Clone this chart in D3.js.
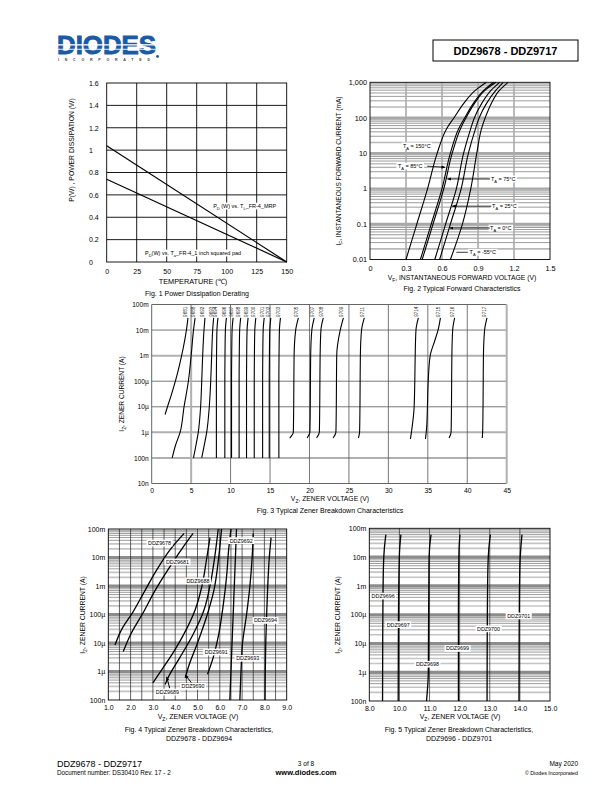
<!DOCTYPE html>
<html><head><meta charset="utf-8">
<script src="https://cdn.jsdelivr.net/npm/d3@7/dist/d3.min.js"></script>
<style>body{margin:0;background:#fff}svg{display:block}text{font-family:"Liberation Sans",Arial,Helvetica,sans-serif}</style>
</head><body><svg id="c" width="612" height="792"></svg>
<script>
// ---------------- DATA ----------------
// Fig 1
const fig1TempTicks = [0, 25, 50, 75, 100, 125, 150];
const fig1PowerTicks = [0, 0.2, 0.4, 0.6, 0.8, 1, 1.2, 1.4, 1.6];
const fig1PowerLabels = ["0", "0.2", "0.4", "0.6", "0.8", "1", "1.2", "1.4", "1.6"];
const fig1Temp = [0, 150];
const fig1PdMRP = [1.04, 0];
const fig1PdPad = [0.74, 0];
// Fig 2 (V, mA)
const fig2VoltTicks = [0, 0.3, 0.6, 0.9, 1.2, 1.5];
const fig2VoltLabels = ["0", "0.3", "0.6", "0.9", "1.2", "1.5"];
const fig2CurrTicks = [0.01, 0.1, 1, 10, 100, 1000];
const fig2CurrLabels = ["0.01", "0.1", "1", "10", "100", "1,000"];
const fig2Labels = ["150", "85", "75", "25", "0", "-55"];
const fig2CurrentMA = [0.01, 0.1, 1, 10, 50, 100, 250, 600, 1000];
const fig2V150 = [0.30, 0.39, 0.48, 0.56, 0.64, 0.70, 0.78, 0.88, 0.97];
const fig2V85 = [0.42, 0.51, 0.60, 0.67, 0.74, 0.79, 0.86, 0.95, 1.03];
const fig2V75 = [0.435, 0.525, 0.615, 0.685, 0.755, 0.80, 0.87, 0.96, 1.05];
const fig2V25 = [0.54, 0.63, 0.72, 0.78, 0.84, 0.87, 0.93, 1.01, 1.08];
const fig2V0 = [0.58, 0.67, 0.76, 0.82, 0.88, 0.91, 0.97, 1.05, 1.11];
const fig2Vm55 = [0.67, 0.77, 0.84, 0.89, 0.93, 0.96, 1.01, 1.08, 1.15];
// Fig 3 (V, A)
const fig3VoltTicks = [0, 5, 10, 15, 20, 25, 30, 35, 40, 45];
const fig3CurrTicks = [1e-8, 1e-7, 1e-6, 1e-5, 1e-4, 1e-3, 1e-2, 1e-1];
const fig3CurrLabels = ["10n", "100n", "1µ", "10µ", "100µ", "1m", "10m", "100m"];
const fig3Names = ["9681","9688","9692","9693","9694","9696","9697","9698","9699","9700","9701","9702","9703","9705","9707","9708","9709","9711","9714","9715","9716","9717"];
const fig3Volts = [
  [1.7, 2.0, 2.5, 3.0, 3.5, 4.0, 4.4, 4.6],
  [2.6, 3.0, 3.6, 4.1, 4.65, 5.0, 5.3, 5.5],
  [5.3, 5.6, 5.9, 6.2, 6.34, 6.46, 6.63, 6.75],
  [6.34, 6.65, 6.97, 7.3, 7.48, 7.6, 7.73, 7.85],
  [8.2, 8.2, 8.22, 8.27, 8.4],
  [9.27, 9.27, 9.29, 9.34, 9.47],
  [10.12, 10.12, 10.14, 10.19, 10.32],
  [11.08, 11.08, 11.1, 11.15, 11.28],
  [12.02, 12.02, 12.04, 12.09, 12.22],
  [13.0, 13.0, 13.02, 13.07, 13.2],
  [14.06, 14.06, 14.08, 14.13, 14.26],
  [14.9, 14.9, 14.92, 14.97, 15.1],
  [16.12, 16.12, 16.14, 16.19, 16.32],
  [17.5, 17.95, 18.0, 18.05, 18.25, 18.6],
  [19.7, 20.05, 20.1, 20.15, 20.3, 20.6],
  [20.9, 21.25, 21.3, 21.35, 21.45, 21.75],
  [23.0, 23.35, 23.4, 23.45, 23.9, 24.3],
  [26.2, 26.35, 26.4, 26.45, 26.6, 26.95],
  [32.8, 33.05, 33.25, 33.35, 33.4, 33.5, 33.8],
  [34.7, 34.85, 34.95, 35.05, 35.3, 35.9, 36.3, 36.6],
  [37.7, 37.95, 38.0, 38.05, 38.15, 38.4],
  [41.9, 41.95, 42.0, 42.05, 42.2, 42.5]
];
const fig3Amps = [
  [5e-6, 1e-5, 3e-5, 1e-4, 4e-4, 2e-3, 1e-2, 3e-2],
  [1e-7, 3e-7, 1e-6, 1e-5, 1e-4, 1e-3, 1e-2, 3e-2],
  [1e-7, 3e-7, 1e-6, 1e-5, 1e-4, 1e-3, 1e-2, 3e-2],
  [1e-7, 3e-7, 1e-6, 1e-5, 1e-4, 1e-3, 1e-2, 3e-2],
  [1e-7, 1e-4, 1e-3, 1e-2, 3e-2],
  [1e-7, 1e-4, 1e-3, 1e-2, 3e-2],
  [1e-7, 1e-4, 1e-3, 1e-2, 3e-2],
  [1e-7, 1e-4, 1e-3, 1e-2, 3e-2],
  [1e-7, 1e-4, 1e-3, 1e-2, 3e-2],
  [1e-7, 1e-4, 1e-3, 1e-2, 3e-2],
  [1e-7, 1e-4, 1e-3, 1e-2, 3e-2],
  [1e-7, 1e-4, 1e-3, 1e-2, 3e-2],
  [1e-7, 1e-4, 1e-3, 1e-2, 3e-2],
  [6e-7, 1e-6, 1e-5, 1e-3, 1e-2, 3e-2],
  [6e-7, 1e-6, 1e-5, 1e-3, 1e-2, 3e-2],
  [6e-7, 1e-6, 1e-5, 1e-3, 1e-2, 3e-2],
  [6e-7, 1e-6, 1e-5, 1e-3, 1e-2, 3e-2],
  [6e-7, 1e-6, 1e-5, 1e-3, 1e-2, 3e-2],
  [5.5e-7, 2e-6, 8e-6, 1e-4, 1e-3, 1e-2, 3e-2],
  [5.5e-7, 1.5e-6, 1e-5, 1e-4, 1e-3, 4e-3, 1e-2, 3e-2],
  [6e-7, 1e-6, 1e-5, 1e-3, 1e-2, 3e-2],
  [6e-7, 1e-6, 1e-5, 1e-3, 1e-2, 3e-2]
];
// Fig 4 (V, A)
const fig4VoltTicks = [1, 2, 3, 4, 5, 6, 7, 8, 9];
const fig4VoltLabels = ["1.0", "2.0", "3.0", "4.0", "5.0", "6.0", "7.0", "8.0", "9.0"];
const zenerCurrTicks = [1e-7, 1e-6, 1e-5, 1e-4, 1e-3, 1e-2, 1e-1];
const zenerCurrLabels = ["100n", "1µ", "10µ", "100µ", "1m", "10m", "100m"];
const fig4Names = ["DDZ9678","DDZ9681","DDZ9688","DDZ9689","DDZ9690","DDZ9691","DDZ9692","DDZ9693","DDZ9694"];
const fig4Volts = [
  [1.3, 1.6, 2.1, 2.6, 3.2, 3.8, 4.4],
  [1.67, 2.0, 2.6, 3.1, 3.7, 4.3, 4.8],
  [3.0, 3.5, 4.0, 4.5, 4.9, 5.2, 5.4, 5.56],
  [3.55, 3.7, 4.2, 4.8, 5.3, 5.6, 5.8, 5.93],
  [4.45, 4.6, 5.0, 5.4, 5.75, 5.95, 6.08],
  [5.45, 5.7, 5.95, 6.15, 6.3, 6.4, 6.5],
  [6.45, 6.5, 6.55, 6.6, 6.65, 6.7, 6.75],
  [6.9, 6.95, 7.02, 7.2, 7.35, 7.45, 7.5],
  [8.03, 8.04, 8.06, 8.1, 8.15, 8.22, 8.3]
];
const fig4Amps = [
  [8.5e-6, 3e-5, 1.2e-4, 6e-4, 4e-3, 2e-2, 7e-2],
  [5e-6, 2e-5, 1.3e-4, 7e-4, 4e-3, 2e-2, 7e-2],
  [4e-7, 1.5e-6, 6e-6, 3e-5, 1.5e-4, 1e-3, 8e-3, 5e-2],
  [3.5e-7, 6.5e-7, 3e-6, 2e-5, 1.5e-4, 1.5e-3, 1.5e-2, 1e-1],
  [6e-7, 1.5e-6, 1e-5, 8e-5, 8e-4, 1e-2, 1e-1],
  [8e-7, 3e-6, 2e-5, 2e-4, 2e-3, 2e-2, 1e-1],
  [1e-7, 1e-6, 1e-5, 1e-4, 1e-3, 1e-2, 1e-1],
  [1e-7, 1e-6, 1e-5, 1e-4, 1e-3, 1e-2, 7e-2],
  [1e-7, 1e-6, 1e-5, 1e-4, 1e-3, 1e-2, 5e-2]
];
// Fig 5 (V, A)
const fig5VoltTicks = [9, 10, 11, 12, 13, 14, 15];
const fig5VoltLabels = ["8.0", "10.0", "11.0", "12.0", "13.0", "14.0", "15.0"];
const fig5Names = ["DDZ9696","DDZ9697","DDZ9698","DDZ9699","DDZ9700","DDZ9701"];
const fig5Volts = [
  [9.44, 9.45, 9.47, 9.5, 9.55],
  [9.96, 9.97, 9.99, 10.01, 10.05],
  [10.9, 10.96, 10.98, 11.0, 11.05],
  [11.96, 11.96, 11.97, 11.98, 12.01],
  [12.91, 12.92, 12.94, 12.97, 13.02],
  [13.97, 13.98, 14.0, 14.03, 14.07]
];
const fig5Amps = [
  [1e-7, 1e-4, 5e-3, 2e-2, 6e-2],
  [1e-7, 1e-4, 5e-3, 2e-2, 6e-2],
  [1e-7, 1e-6, 5e-3, 2e-2, 6e-2],
  [1e-7, 1e-4, 5e-3, 2e-2, 6e-2],
  [1e-7, 1e-4, 5e-3, 2e-2, 6e-2],
  [1e-7, 1e-4, 5e-3, 2e-2, 6e-2]
];

// ---------------- HELPERS ----------------
const svg = d3.select("#c");
svg.append("rect").attr("width", 612).attr("height", 792).attr("fill", "#fff");
svg.append("defs").append("marker").attr("id", "arr").attr("viewBox", "0 0 10 10")
  .attr("refX", 9).attr("refY", 5).attr("markerWidth", 4).attr("markerHeight", 4)
  .attr("orient", "auto").attr("markerUnits", "userSpaceOnUse")
  .append("path").attr("d", "M0,1L10,5L0,9Z").attr("fill", "#000");

function addText(g, x, y, parts, o = {}) {
  const size = o.size || 7;
  const t = g.append("text").attr("x", x).attr("y", y).attr("font-size", size)
    .attr("text-anchor", o.anchor || "start").attr("fill", o.fill || "#000")
    .attr("font-weight", o.weight || "normal");
  if (o.rotate) t.attr("transform", `rotate(${o.rotate},${x},${y})`);
  if (typeof parts === "string") parts = [[parts, 0]];
  let prev = 0;
  parts.forEach(([s, sub]) => {
    const ts = t.append("tspan").text(s);
    if (sub !== prev) ts.attr("dy", sub ? size * 0.3 : -size * 0.3);
    if (sub) ts.attr("font-size", size * 0.72);
    prev = sub;
  });
  return t;
}
function boxLabel(g, cx, cy, parts, size) {
  const gg = g.append("g");
  const t = addText(gg, cx, cy + size * 0.36, parts, { size, anchor: "middle" });
  const b = t.node().getBBox();
  gg.insert("rect", "text").attr("x", b.x - 1.5).attr("y", cy - size * 0.62)
    .attr("width", b.width + 3).attr("height", size * 1.24).attr("fill", "#fff");
  return gg;
}
function hline(g, x0, x1, yy, c, w) {
  g.append("line").attr("x1", x0).attr("x2", x1).attr("y1", yy).attr("y2", yy).attr("stroke", c).attr("stroke-width", w);
}
function vline(g, xx, y0, y1, c, w) {
  g.append("line").attr("x1", xx).attr("x2", xx).attr("y1", y0).attr("y2", y1).attr("stroke", c).attr("stroke-width", w);
}
function styleAxis(sel, size) {
  sel.attr("font-family", null).attr("font-size", size);
  sel.select(".domain").remove();
  sel.selectAll(".tick line").remove();
  sel.selectAll("text").attr("fill", "#000").attr("font-family", "'Liberation Sans',Arial,sans-serif");
}
function minorLog(g, y, decades, x0, x1, styleFn) {
  const lines = [];
  decades.forEach(d => { for (let m = 2; m <= 9; m++) lines.push([d * m, styleFn(m)]); });
  lines.sort((a, b) => b[1][1] - a[1][1]).forEach(([v, s]) => hline(g, x0, x1, y(v), s[0], s[1]));
}
const lineXY = (x, y) => d3.line().x(d => x(d[0])).y(d => y(d[1])).curve(d3.curveMonotoneY);
const zip = (a, b) => a.map((v, i) => [v, b[i]]);

// ---------------- HEADER ----------------
const logo = svg.append("g");
logo.append("text").attr("x", 57).attr("y", 54).attr("font-size", 25.5).attr("font-weight", "bold")
  .attr("fill", "#1b5aa4").attr("stroke", "#1b5aa4").attr("stroke-width", 0.9)
  .attr("textLength", 99).attr("lengthAdjust", "spacingAndGlyphs").text("DIODES");
logo.append("rect").attr("x", 56).attr("y", 44.2).attr("width", 102).attr("height", 1.3).attr("fill", "#fff");
logo.append("rect").attr("x", 56).attr("y", 48.8).attr("width", 102).attr("height", 0.9).attr("fill", "#fff");
logo.append("text").attr("x", 58).attr("y", 61).attr("font-size", 3.6).attr("font-weight", "bold").attr("fill", "#444")
  .attr("textLength", 92).attr("lengthAdjust", "spacing").text("INCORPORATED");
logo.append("circle").attr("cx", 157.5).attr("cy", 56.5).attr("r", 1.4).attr("fill", "#1b5aa4");
svg.append("rect").attr("x", 433).attr("y", 40).attr("width", 145).attr("height", 21).attr("fill", "none").attr("stroke", "#000").attr("stroke-width", 1);
addText(svg, 505.5, 54.8, "DDZ9678 - DDZ9717", { size: 11, anchor: "middle", weight: "bold" });

// ---------------- FIG 1 ----------------
{
  const g = svg.append("g");
  const x = d3.scaleLinear().domain([0, 150]).range([106.7, 286.7]);
  const y = d3.scaleLinear().domain([0, 1.6]).range([262, 83]);
  fig1TempTicks.slice(1, -1).forEach(t => vline(g, x(t), y(0), y(1.6), "#000", 0.9));
  fig1PowerTicks.slice(1, -1).forEach(t => hline(g, x(0), x(150), y(t), "#000", 0.9));
  g.append("rect").attr("x", x(0)).attr("y", y(1.6)).attr("width", x(150) - x(0)).attr("height", y(0) - y(1.6))
    .attr("fill", "none").attr("stroke", "#000").attr("stroke-width", 0.9);
  const lf = d3.line().x(d => x(d[0])).y(d => y(d[1]));
  g.append("path").attr("d", lf(zip(fig1Temp, fig1PdMRP))).attr("fill", "none").attr("stroke", "#000").attr("stroke-width", 1.2);
  g.append("path").attr("d", lf(zip(fig1Temp, fig1PdPad))).attr("fill", "none").attr("stroke", "#000").attr("stroke-width", 1.2);
  boxLabel(g, x(115), y(0.5), [["P", 0], ["D", 1], [" (W) vs. T", 0], ["L", 1], ["_FR-4_MRP", 0]], 5.5);
  boxLabel(g, x(72), y(0.08), [["P", 0], ["D", 1], ["(W) vs. T", 0], ["a", 1], ["_FR-4_1  inch squared pad", 0]], 5.5);
  const ax = g.append("g").attr("transform", `translate(0,${y(0) + 4})`)
    .call(d3.axisBottom(x).tickValues(fig1TempTicks).tickSize(0).tickPadding(3));
  styleAxis(ax, 7);
  const ay = g.append("g").attr("transform", "translate(89,0)")
    .call(d3.axisLeft(y).tickValues(fig1PowerTicks).tickFormat((d, i) => fig1PowerLabels[i]).tickSize(0));
  styleAxis(ay, 7);
  ay.selectAll("text").attr("x", 0).attr("text-anchor", "start");
  addText(g, 74, 150, "P(W) ,  POWER DISSIPATION (W)", { size: 6.8, anchor: "middle", rotate: -90 });
  addText(g, 193, 284, "TEMPERATURE (℃)", { size: 7.3, anchor: "middle" });
  addText(g, 197, 296, "Fig. 1 Power Dissipation Derating", { size: 7, anchor: "middle" });
}

// ---------------- FIG 2 ----------------
{
  const g = svg.append("g");
  const x = d3.scaleLinear().domain([0, 1.5]).range([370, 550]);
  const y = d3.scaleLog().domain([0.01, 1000]).range([259.5, 82.3]);
  minorLog(g, y, [0.01, 0.1, 1, 10, 100], x(0), x(1.5), m => (m === 2 || m === 9 ? ["#b8b8b8", 1.6] : ["#222", 0.45]));
  fig2CurrTicks.slice(1, -1).forEach(t => hline(g, x(0), x(1.5), y(t), "#a8a8a8", 2.4));
  fig2VoltTicks.slice(1, -1).forEach(t => vline(g, x(t), y(0.01), y(1000), "#aaa", 1.6));
  g.append("rect").attr("x", x(0)).attr("y", y(1000)).attr("width", x(1.5) - x(0)).attr("height", y(0.01) - y(1000))
    .attr("fill", "none").attr("stroke", "#000").attr("stroke-width", 0.9);
  const lf = lineXY(x, y);
  [fig2V150, fig2V85, fig2V75, fig2V25, fig2V0, fig2Vm55].forEach(v =>
    g.append("path").attr("d", lf(zip(v, fig2CurrentMA))).attr("fill", "none").attr("stroke", "#000").attr("stroke-width", 1.1));
  const T = (s) => [["T", 0], ["A", 1], [" = " + s + "°C", 0]];
  boxLabel(g, x(0.39), y(16), T(fig2Labels[0]), 5.5);
  boxLabel(g, x(0.335), y(4.3), T(fig2Labels[1]), 5.5);
  const arrow = (x0, y0, x1, y1) => g.append("line").attr("x1", x0).attr("y1", y0).attr("x2", x1).attr("y2", y1)
    .attr("stroke", "#000").attr("stroke-width", 0.8).attr("marker-end", "url(#arr)");
  arrow(x(0.335) + 17, y(4.3), x(0.625), y(4.0));
  boxLabel(g, x(1.11), y(1.87), T(fig2Labels[2]), 5.5);
  arrow(x(1.11) - 13, y(1.87), x(0.645), y(1.87));
  boxLabel(g, x(1.12), y(0.32), T(fig2Labels[3]), 5.5);
  arrow(x(1.12) - 13, y(0.32), x(0.685), y(0.32));
  boxLabel(g, x(1.09), y(0.077), T(fig2Labels[4]), 5.5);
  arrow(x(1.09) - 11, y(0.077), x(0.665), y(0.077));
  g.append("line").attr("x1", x(0.72)).attr("x2", x(0.94) - 15).attr("y1", y(0.016)).attr("y2", y(0.016))
    .attr("stroke", "#000").attr("stroke-width", 0.8);
  boxLabel(g, x(0.94), y(0.016), T(fig2Labels[5]), 5.5);
  const ax = g.append("g").attr("transform", `translate(0,${y(0.01) + 3})`)
    .call(d3.axisBottom(x).tickValues(fig2VoltTicks).tickFormat((d, i) => fig2VoltLabels[i]).tickSize(0).tickPadding(3));
  styleAxis(ax, 7.3);
  const ay = g.append("g").attr("transform", `translate(${x(0) - 3},0)`)
    .call(d3.axisLeft(y).tickValues(fig2CurrTicks).tickFormat((d, i) => fig2CurrLabels[i]).tickSize(0).tickPadding(0));
  styleAxis(ay, 7.3);
  addText(g, 341, 171, [["I", 0], ["F", 1], [", INSTANTANEOUS FORWARD CURRENT (mA)", 0]], { size: 6.6, anchor: "middle", rotate: -90 });
  addText(g, 462, 280, [["V", 0], ["F", 1], [", INSTANTANEOUS FORWARD VOLTAGE (V)", 0]], { size: 6.8, anchor: "middle" });
  addText(g, 462, 291, "Fig. 2 Typical Forward Characteristics", { size: 7, anchor: "middle" });
}

// ---------------- FIG 3 ----------------
{
  const g = svg.append("g");
  const x = d3.scaleLinear().domain([0, 45]).range([151.7, 506.7]);
  const y = d3.scaleLog().domain([1e-8, 1e-1]).range([483.5, 304.5]);
  const grayY = [1e-7, 1e-6, 1e-3];
  fig3CurrTicks.slice(1, -1).forEach(t => hline(g, x(0), x(45), y(t), grayY.includes(t) ? "#b0b0b0" : "#555", grayY.includes(t) ? 2 : 0.8));
  fig3VoltTicks.slice(1, -1).forEach(t => vline(g, x(t), y(1e-8), y(1e-1), t === 5 ? "#b0b0b0" : "#555", t === 5 ? 2 : 0.8));
  hline(g, x(0), x(45), y(1e-1), "#555", 0.9);
  hline(g, x(0), x(45), y(1e-8), "#555", 0.9);
  vline(g, x(0), y(1e-8), y(1e-1), "#555", 0.9);
  vline(g, x(45), y(1e-8), y(1e-1), "#b0b0b0", 2);
  const lf = lineXY(x, y);
  fig3Volts.forEach((v, i) => {
    const pts = zip(v, fig3Amps[i]);
    g.append("path").attr("d", lf(pts)).attr("fill", "none").attr("stroke", "#000").attr("stroke-width", 1.1);
    const top = pts[pts.length - 1];
    addText(g, x(top[0]) - 0.5, y(top[1]) - 1, fig3Names[i], { size: 4.6, rotate: -90, fill: "#222" });
  });
  const ax = g.append("g").attr("transform", `translate(0,${y(1e-8) + 2})`)
    .call(d3.axisBottom(x).tickValues(fig3VoltTicks).tickSize(0).tickPadding(3));
  styleAxis(ax, 6.8);
  const ay = g.append("g").attr("transform", `translate(${x(0) - 3},0)`)
    .call(d3.axisLeft(y).tickValues(fig3CurrTicks).tickFormat((d, i) => fig3CurrLabels[i]).tickSize(0).tickPadding(0));
  styleAxis(ay, 6.6);
  addText(g, 124, 394, [["I", 0], ["Z", 1], [", ZENER CURRENT (A)", 0]], { size: 6.6, anchor: "middle", rotate: -90 });
  addText(g, 330, 501, [["V", 0], ["Z", 1], [", ZENER VOLTAGE (V)", 0]], { size: 6.8, anchor: "middle" });
  addText(g, 330, 512.5, "Fig. 3  Typical Zener Breakdown Characteristics", { size: 7, anchor: "middle" });
}

// ---------------- FIG 4 / FIG 5 shared grid ----------------
function zenerGrid(g, x, y, xd, vLines) {
  minorLog(g, y, [1e-7, 1e-6, 1e-5, 1e-4, 1e-3, 1e-2], x(xd[0]), x(xd[1]),
    m => (m === 2 || m === 3 ? ["#c4c4c4", 1.6] : ["#222", 0.45]));
  zenerCurrTicks.slice(1, -1).forEach(t => hline(g, x(xd[0]), x(xd[1]), y(t), "#8c8c8c", 3));
  vLines.forEach(v => vline(g, x(v), y(1e-7), y(1e-1), "#222", 0.7));
  g.append("rect").attr("x", x(xd[0])).attr("y", y(1e-1)).attr("width", x(xd[1]) - x(xd[0])).attr("height", y(1e-7) - y(1e-1))
    .attr("fill", "none").attr("stroke", "#000").attr("stroke-width", 0.9);
}

// ---------------- FIG 4 ----------------
{
  const g = svg.append("g");
  const x = d3.scaleLinear().domain([1, 9]).range([108.3, 286.7]);
  const y = d3.scaleLog().domain([1e-7, 1e-1]).range([700, 529]);
  zenerGrid(g, x, y, [1, 9], d3.range(1.5, 9, 0.5));
  const lf = lineXY(x, y);
  g.append("clipPath").attr("id", "cp4").append("rect").attr("x", x(1)).attr("y", y(1e-1)).attr("width", x(9) - x(1)).attr("height", y(1e-7) - y(1e-1));
  const cg = g.append("g").attr("clip-path", "url(#cp4)");
  fig4Volts.forEach((v, i) => cg.append("path").attr("d", lf(zip(v, fig4Amps[i]))).attr("fill", "none").attr("stroke", "#000").attr("stroke-width", 1.3));
  boxLabel(g, x(3.3), y(3.2e-2), fig4Names[0], 5.4);
  boxLabel(g, x(4.1), y(7e-3), fig4Names[1], 5.4);
  boxLabel(g, x(5.02), y(1.5e-3), fig4Names[2], 5.4);
  boxLabel(g, x(3.65), y(1.9e-7), fig4Names[3], 5.4);
  boxLabel(g, x(4.8), y(3e-7), fig4Names[4], 5.4);
  boxLabel(g, x(5.84), y(4.8e-6), fig4Names[5], 5.4);
  boxLabel(g, x(6.96), y(3.9e-2), fig4Names[6], 5.4);
  boxLabel(g, x(7.25), y(2.9e-6), fig4Names[7], 5.4);
  boxLabel(g, x(8.05), y(6.2e-5), fig4Names[8], 5.4);
  const arrow = (x0, y0, x1, y1) => g.append("line").attr("x1", x0).attr("y1", y0).attr("x2", x1).attr("y2", y1)
    .attr("stroke", "#000").attr("stroke-width", 1).attr("marker-end", "url(#arr)");
  arrow(x(3.75), y(2.6e-7), x(3.62), y(6.5e-7));
  arrow(x(4.72), y(4.1e-7), x(4.46), y(7.5e-7));
  const ax = g.append("g").attr("transform", `translate(0,${y(1e-7) + 2})`)
    .call(d3.axisBottom(x).tickValues(fig4VoltTicks).tickFormat((d, i) => fig4VoltLabels[i]).tickSize(0).tickPadding(3));
  styleAxis(ax, 7);
  const ay = g.append("g").attr("transform", `translate(${x(1) - 3},0)`)
    .call(d3.axisLeft(y).tickValues(zenerCurrTicks).tickFormat((d, i) => zenerCurrLabels[i]).tickSize(0).tickPadding(0));
  styleAxis(ay, 7);
  addText(g, 85, 615, [["I", 0], ["Z", 1], [", ZENER CURRENT (A)", 0]], { size: 6.8, anchor: "middle", rotate: -90 });
  addText(g, 198, 719, [["V", 0], ["Z", 1], [", ZENER VOLTAGE (V)", 0]], { size: 7, anchor: "middle" });
  addText(g, 199, 732, "Fig. 4  Typical Zener Breakdown Characteristics,", { size: 7, anchor: "middle" });
  addText(g, 199, 740.5, "DDZ9678 - DDZ9694", { size: 7, anchor: "middle" });
}

// ---------------- FIG 5 ----------------
{
  const g = svg.append("g");
  const x = d3.scaleLinear().domain([9, 15]).range([369.3, 550]);
  const y = d3.scaleLog().domain([1e-7, 1e-1]).range([701, 528.3]);
  zenerGrid(g, x, y, [9, 15], fig5VoltTicks.slice(1, -1));
  const lf = lineXY(x, y);
  fig5Volts.forEach((v, i) => g.append("path").attr("d", lf(zip(v, fig5Amps[i]))).attr("fill", "none").attr("stroke", "#000").attr("stroke-width", 1.3));
  boxLabel(g, x(9.46), y(4.4e-4), fig5Names[0], 5.4);
  boxLabel(g, x(9.96), y(4.5e-5), fig5Names[1], 5.4);
  boxLabel(g, x(10.93), y(1.9e-6), fig5Names[2], 5.4);
  boxLabel(g, x(11.93), y(6.7e-6), fig5Names[3], 5.4);
  boxLabel(g, x(12.96), y(3.2e-5), fig5Names[4], 5.4);
  boxLabel(g, x(13.96), y(9e-5), fig5Names[5], 5.4);
  const ax = g.append("g").attr("transform", `translate(0,${y(1e-7) + 2})`)
    .call(d3.axisBottom(x).tickValues(fig5VoltTicks).tickFormat((d, i) => fig5VoltLabels[i]).tickSize(0).tickPadding(3));
  styleAxis(ax, 7);
  const ay = g.append("g").attr("transform", `translate(${x(9) - 3},0)`)
    .call(d3.axisLeft(y).tickValues(zenerCurrTicks).tickFormat((d, i) => zenerCurrLabels[i]).tickSize(0).tickPadding(0));
  styleAxis(ay, 7);
  addText(g, 340, 615, [["I", 0], ["Z", 1], [", ZENER CURRENT (A)", 0]], { size: 6.8, anchor: "middle", rotate: -90 });
  addText(g, 460, 719, [["V", 0], ["Z", 1], [", ZENER VOLTAGE (V)", 0]], { size: 7, anchor: "middle" });
  addText(g, 459, 732, "Fig. 5  Typical Zener Breakdown Characteristics,", { size: 7, anchor: "middle" });
  addText(g, 459, 740.5, "DDZ9696 - DDZ9701", { size: 7, anchor: "middle" });
}

// ---------------- FOOTER ----------------
addText(svg, 57, 767, "DDZ9678 - DDZ9717", { size: 9 });
addText(svg, 57, 775, "Document number: DS30410 Rev. 17 - 2", { size: 6.3 });
addText(svg, 306, 766, "3 of 8", { size: 6.5, anchor: "middle" });
addText(svg, 306, 775, "www.diodes.com", { size: 7.5, anchor: "middle", weight: "bold" });
addText(svg, 578, 766, "May 2020", { size: 6.5, anchor: "end" });
addText(svg, 578, 774.5, "© Diodes Incorporated", { size: 5.3, anchor: "end" });
</script></body></html>
